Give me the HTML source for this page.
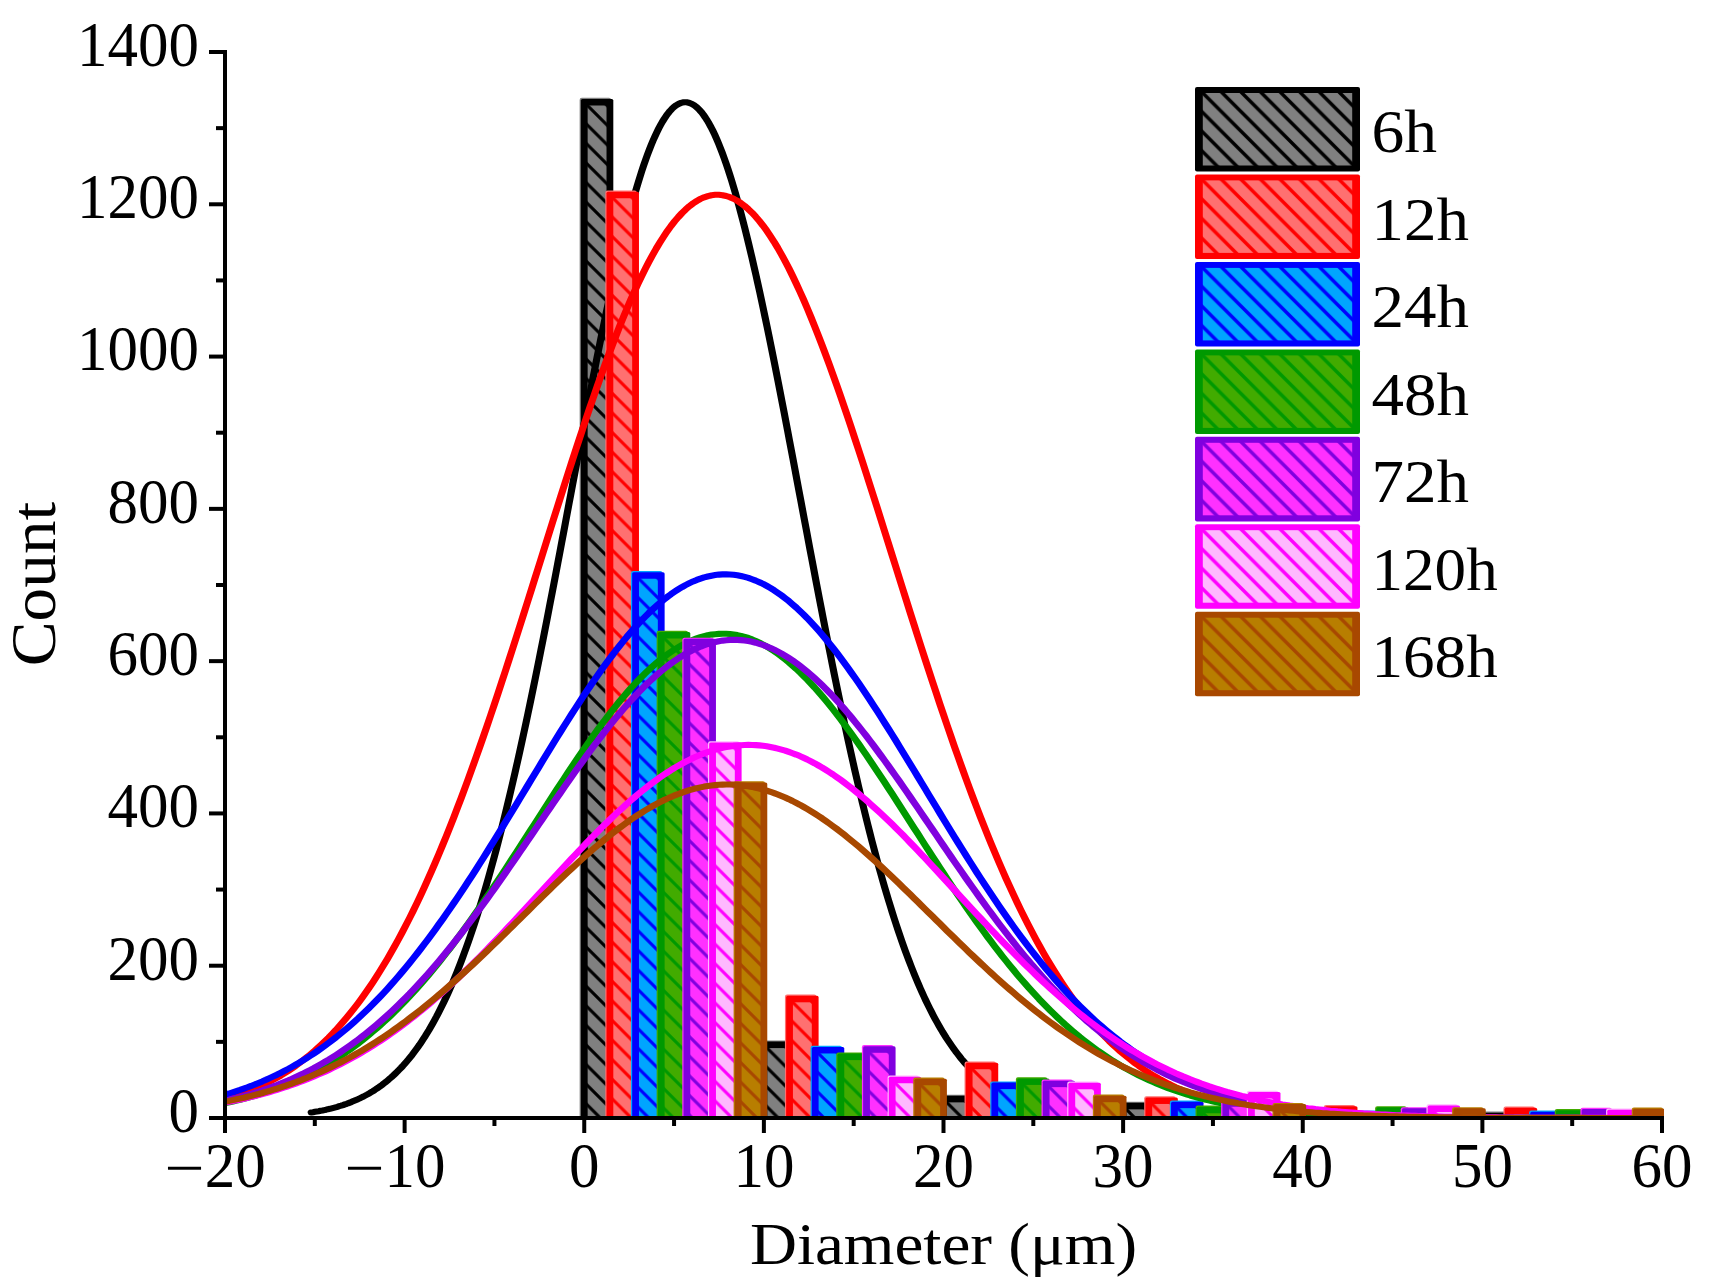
<!DOCTYPE html><html><head><meta charset="utf-8"><title>Diameter histogram</title>
<style>html,body{margin:0;padding:0;background:#fff}svg{display:block}text{font-family:"Liberation Serif", serif;fill:#000}</style></head><body>
<svg width="1713" height="1284" viewBox="0 0 1713 1284">
<rect width="1713" height="1284" fill="#fff"/>
<defs>
<pattern id="h0" patternUnits="userSpaceOnUse" width="19.6" height="19.6"><rect width="19.6" height="19.6" fill="#808080"/><path d="M-5,-5 L24.6,24.6 M-5,14.600000000000001 L5,24.6 M14.600000000000001,-5 L24.6,5" stroke="#000000" stroke-width="3.1" fill="none"/></pattern>
<pattern id="h1" patternUnits="userSpaceOnUse" width="19.6" height="19.6"><rect width="19.6" height="19.6" fill="#ff7070"/><path d="M-5,-5 L24.6,24.6 M-5,14.600000000000001 L5,24.6 M14.600000000000001,-5 L24.6,5" stroke="#ff0000" stroke-width="3.1" fill="none"/></pattern>
<pattern id="h2" patternUnits="userSpaceOnUse" width="19.6" height="19.6"><rect width="19.6" height="19.6" fill="#00a5ff"/><path d="M-5,-5 L24.6,24.6 M-5,14.600000000000001 L5,24.6 M14.600000000000001,-5 L24.6,5" stroke="#0000ff" stroke-width="3.1" fill="none"/></pattern>
<pattern id="h3" patternUnits="userSpaceOnUse" width="19.6" height="19.6"><rect width="19.6" height="19.6" fill="#42ab00"/><path d="M-5,-5 L24.6,24.6 M-5,14.600000000000001 L5,24.6 M14.600000000000001,-5 L24.6,5" stroke="#009900" stroke-width="3.1" fill="none"/></pattern>
<pattern id="h4" patternUnits="userSpaceOnUse" width="19.6" height="19.6"><rect width="19.6" height="19.6" fill="#ff30ff"/><path d="M-5,-5 L24.6,24.6 M-5,14.600000000000001 L5,24.6 M14.600000000000001,-5 L24.6,5" stroke="#8000df" stroke-width="3.1" fill="none"/></pattern>
<pattern id="h5" patternUnits="userSpaceOnUse" width="19.6" height="19.6"><rect width="19.6" height="19.6" fill="#ffb8ff"/><path d="M-5,-5 L24.6,24.6 M-5,14.600000000000001 L5,24.6 M14.600000000000001,-5 L24.6,5" stroke="#ff00ff" stroke-width="3.1" fill="none"/></pattern>
<pattern id="h6" patternUnits="userSpaceOnUse" width="19.6" height="19.6"><rect width="19.6" height="19.6" fill="#b87e00"/><path d="M-5,-5 L24.6,24.6 M-5,14.600000000000001 L5,24.6 M14.600000000000001,-5 L24.6,5" stroke="#a84800" stroke-width="3.1" fill="none"/></pattern>
<pattern id="g0" patternUnits="userSpaceOnUse" width="19.6" height="19.6"><rect width="19.6" height="19.6" fill="#808080"/><path d="M-5,-5 L24.6,24.6 M-5,14.600000000000001 L5,24.6 M14.600000000000001,-5 L24.6,5" stroke="#000000" stroke-width="3.5" fill="none"/></pattern>
<pattern id="g1" patternUnits="userSpaceOnUse" width="19.6" height="19.6"><rect width="19.6" height="19.6" fill="#ff7070"/><path d="M-5,-5 L24.6,24.6 M-5,14.600000000000001 L5,24.6 M14.600000000000001,-5 L24.6,5" stroke="#ff0000" stroke-width="3.5" fill="none"/></pattern>
<pattern id="g2" patternUnits="userSpaceOnUse" width="19.6" height="19.6"><rect width="19.6" height="19.6" fill="#00a5ff"/><path d="M-5,-5 L24.6,24.6 M-5,14.600000000000001 L5,24.6 M14.600000000000001,-5 L24.6,5" stroke="#0000ff" stroke-width="3.5" fill="none"/></pattern>
<pattern id="g3" patternUnits="userSpaceOnUse" width="19.6" height="19.6"><rect width="19.6" height="19.6" fill="#42ab00"/><path d="M-5,-5 L24.6,24.6 M-5,14.600000000000001 L5,24.6 M14.600000000000001,-5 L24.6,5" stroke="#009900" stroke-width="3.5" fill="none"/></pattern>
<pattern id="g4" patternUnits="userSpaceOnUse" width="19.6" height="19.6"><rect width="19.6" height="19.6" fill="#ff30ff"/><path d="M-5,-5 L24.6,24.6 M-5,14.600000000000001 L5,24.6 M14.600000000000001,-5 L24.6,5" stroke="#8000df" stroke-width="3.5" fill="none"/></pattern>
<pattern id="g5" patternUnits="userSpaceOnUse" width="19.6" height="19.6"><rect width="19.6" height="19.6" fill="#ffb8ff"/><path d="M-5,-5 L24.6,24.6 M-5,14.600000000000001 L5,24.6 M14.600000000000001,-5 L24.6,5" stroke="#ff00ff" stroke-width="3.5" fill="none"/></pattern>
<pattern id="g6" patternUnits="userSpaceOnUse" width="19.6" height="19.6"><rect width="19.6" height="19.6" fill="#b87e00"/><path d="M-5,-5 L24.6,24.6 M-5,14.600000000000001 L5,24.6 M14.600000000000001,-5 L24.6,5" stroke="#a84800" stroke-width="3.5" fill="none"/></pattern>
<clipPath id="clip"><rect x="225.0" y="0" width="1439.0" height="1118.0"/></clipPath>
</defs>
<g clip-path="url(#clip)">
<rect x="579.65" y="97.80" width="31.46" height="1023.00" rx="2.2" fill="#808080"/>
<rect x="580.85" y="99.00" width="32.46" height="1023.00" rx="1.6" fill="#000000"/>
<g transform="translate(584.25,102.25)"><rect x="3.40" y="3.25" width="18.86" height="1012.50" fill="url(#h0)"/></g>
<rect x="759.27" y="1040.38" width="31.46" height="80.42" rx="2.2" fill="#808080"/>
<rect x="760.48" y="1041.58" width="32.46" height="80.42" rx="1.6" fill="#000000"/>
<g transform="translate(763.88,1044.83)"><rect x="3.40" y="3.25" width="18.86" height="69.92" fill="url(#h0)"/></g>
<rect x="938.90" y="1094.67" width="31.46" height="26.13" rx="2.2" fill="#808080"/>
<rect x="940.10" y="1095.87" width="32.46" height="26.13" rx="1.6" fill="#000000"/>
<g transform="translate(943.50,1099.12)"><rect x="3.40" y="3.25" width="18.86" height="15.63" fill="url(#h0)"/></g>
<rect x="1118.52" y="1101.67" width="31.46" height="19.13" rx="2.2" fill="#808080"/>
<rect x="1119.72" y="1102.87" width="32.46" height="19.13" rx="1.6" fill="#000000"/>
<g transform="translate(1123.12,1106.12)"><rect x="3.40" y="3.25" width="18.86" height="8.63" fill="url(#h0)"/></g>
<rect x="1298.15" y="1111.27" width="31.46" height="9.53" rx="2.2" fill="#808080"/>
<rect x="1299.35" y="1112.47" width="32.46" height="9.53" rx="1.6" fill="#000000"/>
<rect x="1477.77" y="1111.57" width="31.46" height="9.23" rx="2.2" fill="#808080"/>
<rect x="1478.97" y="1112.77" width="32.46" height="9.23" rx="1.6" fill="#000000"/>
<polyline transform="scale(1.17,1)" points="266.00,1112.5 267.60,1112.2 269.19,1111.8 270.79,1111.5 272.39,1111.2 273.98,1110.8 275.58,1110.5 277.18,1110.1 278.77,1109.7 280.37,1109.2 281.97,1108.8 283.56,1108.3 285.16,1107.8 286.76,1107.3 288.35,1106.8 289.95,1106.2 291.55,1105.7 293.14,1105.1 294.74,1104.4 296.34,1103.8 297.93,1103.1 299.53,1102.4 301.13,1101.6 302.72,1100.8 304.32,1100.0 305.92,1099.2 307.51,1098.3 309.11,1097.4 310.71,1096.5 312.30,1095.5 313.90,1094.5 315.50,1093.4 317.09,1092.3 318.69,1091.2 320.29,1090.0 321.88,1088.7 323.48,1087.5 325.08,1086.1 326.67,1084.8 328.27,1083.3 329.87,1081.9 331.46,1080.3 333.06,1078.7 334.66,1077.1 336.25,1075.4 337.85,1073.6 339.45,1071.8 341.04,1069.9 342.64,1068.0 344.24,1066.0 345.83,1063.9 347.43,1061.7 349.03,1059.5 350.62,1057.2 352.22,1054.9 353.82,1052.4 355.41,1049.9 357.01,1047.3 358.61,1044.7 360.20,1041.9 361.80,1039.1 363.40,1036.2 364.99,1033.1 366.59,1030.1 368.19,1026.9 369.78,1023.6 371.38,1020.2 372.98,1016.8 374.57,1013.2 376.17,1009.6 377.77,1005.8 379.36,1002.0 380.96,998.0 382.56,994.0 384.15,989.8 385.75,985.6 387.35,981.2 388.94,976.7 390.54,972.2 392.14,967.5 393.73,962.7 395.33,957.8 396.93,952.7 398.52,947.6 400.12,942.4 401.72,937.0 403.31,931.5 404.91,925.9 406.51,920.2 408.10,914.4 409.70,908.4 411.30,902.4 412.89,896.2 414.49,889.9 416.09,883.5 417.68,877.0 419.28,870.3 420.88,863.5 422.47,856.7 424.07,849.7 425.67,842.5 427.26,835.3 428.86,828.0 430.46,820.5 432.05,812.9 433.65,805.2 435.25,797.4 436.84,789.5 438.44,781.5 440.04,773.4 441.63,765.2 443.23,756.9 444.83,748.4 446.42,739.9 448.02,731.3 449.62,722.6 451.21,713.8 452.81,704.9 454.41,695.9 456.00,686.9 457.60,677.7 459.20,668.5 460.79,659.2 462.39,649.8 463.99,640.4 465.58,630.9 467.18,621.4 468.78,611.8 470.37,602.1 471.97,592.4 473.57,582.7 475.16,572.9 476.76,563.0 478.36,553.2 479.95,543.3 481.55,533.4 483.15,523.5 484.74,513.6 486.34,503.6 487.94,493.7 489.53,483.8 491.13,473.9 492.73,464.0 494.32,454.1 495.92,444.2 497.52,434.4 499.11,424.6 500.71,414.8 502.31,405.1 503.90,395.5 505.50,385.9 507.10,376.4 508.69,367.0 510.29,357.6 511.89,348.3 513.48,339.1 515.08,330.0 516.68,321.0 518.27,312.1 519.87,303.3 521.47,294.6 523.06,286.1 524.66,277.7 526.26,269.4 527.85,261.3 529.45,253.3 531.05,245.5 532.64,237.8 534.24,230.3 535.84,222.9 537.43,215.8 539.03,208.8 540.63,202.0 542.22,195.3 543.82,188.9 545.42,182.7 547.01,176.7 548.61,170.8 550.21,165.2 551.80,159.9 553.40,154.7 555.00,149.7 556.59,145.0 558.19,140.5 559.79,136.3 561.38,132.3 562.98,128.5 564.58,125.0 566.17,121.7 567.77,118.7 569.37,115.9 570.96,113.4 572.56,111.1 574.16,109.1 575.75,107.3 577.35,105.8 578.95,104.6 580.54,103.6 582.14,102.9 583.74,102.4 585.33,102.3 586.93,102.3 588.53,102.7 590.12,103.3 591.72,104.2 593.32,105.3 594.91,106.7 596.51,108.4 598.11,110.3 599.70,112.4 601.30,114.9 602.90,117.6 604.49,120.5 606.09,123.7 607.69,127.1 609.28,130.8 610.88,134.7 612.48,138.9 614.07,143.3 615.67,147.9 617.27,152.8 618.86,157.8 620.46,163.1 622.06,168.7 623.65,174.4 625.25,180.3 626.85,186.5 628.44,192.8 630.04,199.4 631.64,206.1 633.23,213.0 634.83,220.2 636.43,227.4 638.02,234.9 639.62,242.5 641.22,250.3 642.81,258.2 644.41,266.3 646.01,274.5 647.60,282.9 649.20,291.3 650.80,300.0 652.39,308.7 653.99,317.6 655.59,326.5 657.18,335.6 658.78,344.7 660.38,354.0 661.97,363.3 663.57,372.8 665.17,382.2 666.76,391.8 668.36,401.4 669.96,411.1 671.55,420.8 673.15,430.6 674.75,440.4 676.34,450.3 677.94,460.1 679.54,470.0 681.13,480.0 682.73,489.9 684.33,499.8 685.92,509.8 687.52,519.7 689.12,529.6 690.71,539.5 692.31,549.4 693.91,559.3 695.50,569.1 697.10,578.9 698.70,588.7 700.29,598.4 701.89,608.1 703.49,617.7 705.08,627.3 706.68,636.8 708.28,646.2 709.87,655.6 711.47,664.9 713.07,674.2 714.66,683.3 716.26,692.4 717.86,701.4 719.45,710.4 721.05,719.2 722.65,728.0 724.24,736.6 725.84,745.2 727.44,753.6 729.03,762.0 730.63,770.3 732.23,778.4 733.82,786.5 735.42,794.4 737.02,802.3 738.61,810.0 740.21,817.6 741.81,825.1 743.40,832.5 745.00,839.8 746.60,846.9 748.19,854.0 749.79,860.9 751.39,867.7 752.98,874.4 754.58,881.0 756.18,887.5 757.77,893.8 759.37,900.0 760.97,906.1 762.56,912.1 764.16,918.0 765.76,923.7 767.35,929.4 768.95,934.9 770.55,940.3 772.14,945.6 773.74,950.8 775.34,955.9 776.93,960.8 778.53,965.6 780.13,970.4 781.72,975.0 783.32,979.5 784.92,983.9 786.51,988.2 788.11,992.4 789.71,996.5 791.30,1000.5 792.90,1004.4 794.50,1008.1 796.09,1011.8 797.69,1015.4 799.29,1018.9 800.88,1022.3 802.48,1025.6 804.08,1028.8 805.67,1032.0 807.27,1035.0 808.87,1038.0 810.46,1040.8 812.06,1043.6 813.66,1046.3 815.25,1048.9 816.85,1051.5 818.45,1053.9 820.04,1056.3 821.64,1058.7 823.24,1060.9 824.83,1063.1 826.43,1065.2 828.03,1067.2 829.62,1069.2 831.22,1071.1 832.82,1072.9 834.41,1074.7 836.01,1076.4 837.61,1078.1 839.20,1079.7 840.80,1081.3 842.40,1082.8 843.99,1084.2 845.59,1085.6 847.19,1087.0 848.78,1088.3 850.38,1089.5 851.98,1090.7 853.57,1091.9 855.17,1093.0 856.77,1094.1 858.36,1095.1 859.96,1096.1 861.56,1097.1 863.15,1098.0 864.75,1098.9 866.35,1099.7 867.94,1100.5 869.54,1101.3 871.14,1102.1 872.73,1102.8 874.33,1103.5 875.93,1104.2 877.52,1104.8 879.12,1105.4 880.72,1106.0 882.31,1106.6 883.91,1107.1 885.51,1107.6 887.10,1108.1 888.70,1108.6 890.30,1109.1 891.89,1109.5 893.49,1109.9 895.09,1110.3 896.68,1110.7 898.28,1111.0 899.88,1111.4 901.47,1111.7 903.07,1112.0 904.67,1112.3" fill="none" stroke="#000000" stroke-width="6.1" stroke-linecap="round" stroke-linejoin="round"/>
<rect x="605.31" y="190.55" width="31.46" height="930.25" rx="2.2" fill="#ff7070"/>
<rect x="606.51" y="191.75" width="32.46" height="930.25" rx="1.6" fill="#ff0000"/>
<g transform="translate(609.91,195.00)"><rect x="3.40" y="3.25" width="18.86" height="919.75" fill="url(#h1)"/></g>
<rect x="784.94" y="994.61" width="31.46" height="126.19" rx="2.2" fill="#ff7070"/>
<rect x="786.14" y="995.81" width="32.46" height="126.19" rx="1.6" fill="#ff0000"/>
<g transform="translate(789.54,999.06)"><rect x="3.40" y="3.25" width="18.86" height="115.69" fill="url(#h1)"/></g>
<rect x="964.56" y="1061.54" width="31.46" height="59.26" rx="2.2" fill="#ff7070"/>
<rect x="965.76" y="1062.74" width="32.46" height="59.26" rx="1.6" fill="#ff0000"/>
<g transform="translate(969.16,1065.99)"><rect x="3.40" y="3.25" width="18.86" height="48.76" fill="url(#h1)"/></g>
<rect x="1144.19" y="1096.27" width="31.46" height="24.53" rx="2.2" fill="#ff7070"/>
<rect x="1145.39" y="1097.47" width="32.46" height="24.53" rx="1.6" fill="#ff0000"/>
<g transform="translate(1148.79,1100.72)"><rect x="3.40" y="3.25" width="18.86" height="14.03" fill="url(#h1)"/></g>
<rect x="1323.81" y="1105.02" width="31.46" height="15.78" rx="2.2" fill="#ff7070"/>
<rect x="1325.01" y="1106.22" width="32.46" height="15.78" rx="1.6" fill="#ff0000"/>
<g transform="translate(1328.41,1109.47)"><rect x="3.40" y="3.25" width="18.86" height="5.28" fill="url(#h1)"/></g>
<rect x="1503.44" y="1106.54" width="31.46" height="14.26" rx="2.2" fill="#ff7070"/>
<rect x="1504.64" y="1107.74" width="32.46" height="14.26" rx="1.6" fill="#ff0000"/>
<g transform="translate(1508.04,1110.99)"><rect x="3.40" y="3.25" width="18.86" height="3.76" fill="url(#h1)"/></g>
<polyline transform="scale(1.17,1)" points="176.96,1104.3 180.10,1103.4 183.25,1102.5 186.40,1101.5 189.54,1100.5 192.69,1099.5 195.84,1098.4 198.99,1097.2 202.13,1096.0 205.28,1094.7 208.43,1093.3 211.58,1091.9 214.72,1090.4 217.87,1088.8 221.02,1087.2 224.16,1085.5 227.31,1083.7 230.46,1081.8 233.61,1079.8 236.75,1077.7 239.90,1075.6 243.05,1073.3 246.20,1071.0 249.34,1068.5 252.49,1066.0 255.64,1063.3 258.78,1060.5 261.93,1057.6 265.08,1054.6 268.23,1051.5 271.37,1048.2 274.52,1044.8 277.67,1041.3 280.82,1037.7 283.96,1033.9 287.11,1030.0 290.26,1025.9 293.40,1021.7 296.55,1017.3 299.70,1012.8 302.85,1008.1 305.99,1003.3 309.14,998.3 312.29,993.2 315.44,987.9 318.58,982.4 321.73,976.7 324.88,970.9 328.02,964.9 331.17,958.8 334.32,952.4 337.47,945.9 340.61,939.2 343.76,932.4 346.91,925.3 350.06,918.1 353.20,910.7 356.35,903.1 359.50,895.3 362.64,887.3 365.79,879.2 368.94,870.9 372.09,862.4 375.23,853.7 378.38,844.9 381.53,835.9 384.68,826.7 387.82,817.4 390.97,807.8 394.12,798.2 397.26,788.3 400.41,778.4 403.56,768.2 406.71,757.9 409.85,747.5 413.00,737.0 416.15,726.3 419.30,715.5 422.44,704.6 425.59,693.6 428.74,682.4 431.88,671.2 435.03,659.9 438.18,648.5 441.33,637.0 444.47,625.5 447.62,613.9 450.77,602.3 453.92,590.6 457.06,578.9 460.21,567.2 463.36,555.5 466.50,543.7 469.65,532.0 472.80,520.3 475.95,508.7 479.09,497.1 482.24,485.5 485.39,474.0 488.54,462.6 491.68,451.3 494.83,440.1 497.98,429.0 501.12,418.0 504.27,407.2 507.42,396.5 510.57,386.0 513.71,375.6 516.86,365.5 520.01,355.5 523.16,345.7 526.30,336.2 529.45,326.8 532.60,317.8 535.74,308.9 538.89,300.4 542.04,292.1 545.19,284.0 548.33,276.3 551.48,268.9 554.63,261.8 557.78,255.0 560.92,248.5 564.07,242.4 567.22,236.6 570.36,231.1 573.51,226.0 576.66,221.3 579.81,217.0 582.95,213.0 586.10,209.4 589.25,206.2 592.40,203.4 595.54,201.0 598.69,198.9 601.84,197.3 604.98,196.1 608.13,195.2 611.28,194.8 614.43,194.8 617.57,195.2 620.72,196.0 623.87,197.2 627.02,198.8 630.16,200.8 633.31,203.2 636.46,206.0 639.60,209.2 642.75,212.7 645.90,216.7 649.05,221.0 652.19,225.7 655.34,230.7 658.49,236.2 661.64,241.9 664.78,248.0 667.93,254.5 671.08,261.3 674.22,268.3 677.37,275.8 680.52,283.5 683.67,291.5 686.81,299.7 689.96,308.3 693.11,317.1 696.26,326.2 699.40,335.5 702.55,345.0 705.70,354.8 708.84,364.7 711.99,374.9 715.14,385.2 718.29,395.7 721.43,406.4 724.58,417.2 727.73,428.2 730.88,439.3 734.02,450.5 737.17,461.8 740.32,473.2 743.46,484.7 746.61,496.2 749.76,507.8 752.91,519.5 756.05,531.2 759.20,542.9 762.35,554.6 765.50,566.3 768.64,578.0 771.79,589.7 774.94,601.4 778.08,613.1 781.23,624.6 784.38,636.2 787.53,647.7 790.67,659.1 793.82,670.4 796.97,681.6 800.12,692.7 803.26,703.8 806.41,714.7 809.56,725.5 812.70,736.2 815.85,746.8 819.00,757.2 822.15,767.5 825.29,777.6 828.44,787.6 831.59,797.5 834.74,807.1 837.88,816.7 841.03,826.0 844.18,835.2 847.32,844.2 850.47,853.1 853.62,861.8 856.77,870.3 859.91,878.6 863.06,886.7 866.21,894.7 869.36,902.5 872.50,910.1 875.65,917.5 878.80,924.8 881.94,931.8 885.09,938.7 888.24,945.4 891.39,952.0 894.53,958.3 897.68,964.5 900.83,970.5 903.98,976.3 907.12,982.0 910.27,987.5 913.42,992.8 916.56,998.0 919.71,1003.0 922.86,1007.8 926.01,1012.5 929.15,1017.0 932.30,1021.4 935.45,1025.6 938.60,1029.7 941.74,1033.6 944.89,1037.4 948.04,1041.1 951.18,1044.6 954.33,1048.0 957.48,1051.3 960.63,1054.4 963.77,1057.4 966.92,1060.3 970.07,1063.1 973.22,1065.8 976.36,1068.3 979.51,1070.8 982.66,1073.2 985.80,1075.4 988.95,1077.6 992.10,1079.7 995.25,1081.6 998.39,1083.5 1001.54,1085.3 1004.69,1087.1 1007.84,1088.7 1010.98,1090.3 1014.13,1091.8 1017.28,1093.2 1020.43,1094.6 1023.57,1095.9 1026.72,1097.1 1029.87,1098.3 1033.01,1099.4 1036.16,1100.5 1039.31,1101.5 1042.46,1102.4 1045.60,1103.3 1048.75,1104.2 1051.90,1105.0 1055.05,1105.8 1058.19,1106.5 1061.34,1107.2 1064.49,1107.9 1067.63,1108.5 1070.78,1109.1 1073.93,1109.6 1077.08,1110.2 1080.22,1110.6 1083.37,1111.1 1086.52,1111.5 1089.67,1112.0 1092.81,1112.3 1095.96,1112.7 1099.11,1113.1 1102.25,1113.4 1105.40,1113.7 1108.55,1114.0 1111.70,1114.2 1114.84,1114.5 1117.99,1114.7 1121.14,1115.0 1124.29,1115.2 1127.43,1115.4 1130.58,1115.5 1133.73,1115.7 1136.87,1115.9 1140.02,1116.0 1143.17,1116.2 1146.32,1116.3 1149.46,1116.4 1152.61,1116.5 1155.76,1116.6 1158.91,1116.7 1162.05,1116.8 1165.20,1116.9 1168.35,1117.0 1171.49,1117.1 1174.64,1117.1 1177.79,1117.2 1180.94,1117.3 1184.08,1117.3 1187.23,1117.4 1190.38,1117.4 1193.53,1117.5 1196.67,1117.5 1199.82,1117.5 1202.97,1117.6 1206.11,1117.6 1209.26,1117.6 1212.41,1117.7 1215.56,1117.7 1218.70,1117.7 1221.85,1117.7 1225.00,1117.8 1228.15,1117.8 1231.29,1117.8 1234.44,1117.8 1237.59,1117.8 1240.73,1117.8 1243.88,1117.9 1247.03,1117.9 1250.18,1117.9 1253.32,1117.9 1256.47,1117.9 1259.62,1117.9 1262.77,1117.9 1265.91,1117.9 1269.06,1117.9 1272.21,1117.9 1275.35,1117.9 1278.50,1117.9 1281.65,1118.0 1284.80,1118.0 1287.94,1118.0 1291.09,1118.0 1294.24,1118.0 1297.39,1118.0 1300.53,1118.0 1303.68,1118.0 1306.83,1118.0 1309.97,1118.0 1313.12,1118.0 1316.27,1118.0 1319.42,1118.0 1322.56,1118.0 1325.71,1118.0 1328.86,1118.0 1332.01,1118.0 1335.15,1118.0 1338.30,1118.0 1341.45,1118.0 1344.59,1118.0 1347.74,1118.0 1350.89,1118.0 1354.04,1118.0 1357.18,1118.0 1360.33,1118.0 1363.48,1118.0 1366.63,1118.0 1369.77,1118.0 1372.92,1118.0 1376.07,1118.0 1379.21,1118.0 1382.36,1118.0 1385.51,1118.0 1388.66,1118.0 1391.80,1118.0 1394.95,1118.0 1398.10,1118.0 1401.25,1118.0 1404.39,1118.0 1407.54,1118.0 1410.69,1118.0 1413.83,1118.0 1416.98,1118.0 1420.13,1118.0 1423.28,1118.0 1426.42,1118.0 1429.57,1118.0 1432.72,1118.0 1435.87,1118.0" fill="none" stroke="#ff0000" stroke-width="6.1" stroke-linecap="round" stroke-linejoin="round"/>
<rect x="630.97" y="571.03" width="31.46" height="549.77" rx="2.2" fill="#00a5ff"/>
<rect x="632.17" y="572.23" width="32.46" height="549.77" rx="1.6" fill="#0000ff"/>
<g transform="translate(635.57,575.48)"><rect x="3.40" y="3.25" width="18.86" height="539.27" fill="url(#h2)"/></g>
<rect x="810.60" y="1045.78" width="31.46" height="75.02" rx="2.2" fill="#00a5ff"/>
<rect x="811.80" y="1046.98" width="32.46" height="75.02" rx="1.6" fill="#0000ff"/>
<g transform="translate(815.20,1050.23)"><rect x="3.40" y="3.25" width="18.86" height="64.52" fill="url(#h2)"/></g>
<rect x="990.22" y="1081.42" width="31.46" height="39.38" rx="2.2" fill="#00a5ff"/>
<rect x="991.42" y="1082.62" width="32.46" height="39.38" rx="1.6" fill="#0000ff"/>
<g transform="translate(994.82,1085.87)"><rect x="3.40" y="3.25" width="18.86" height="28.88" fill="url(#h2)"/></g>
<rect x="1169.85" y="1100.45" width="31.46" height="20.35" rx="2.2" fill="#00a5ff"/>
<rect x="1171.05" y="1101.65" width="32.46" height="20.35" rx="1.6" fill="#0000ff"/>
<g transform="translate(1174.45,1104.90)"><rect x="3.40" y="3.25" width="18.86" height="9.85" fill="url(#h2)"/></g>
<rect x="1349.47" y="1110.50" width="31.46" height="10.30" rx="2.2" fill="#00a5ff"/>
<rect x="1350.67" y="1111.70" width="32.46" height="10.30" rx="1.6" fill="#0000ff"/>
<rect x="1529.10" y="1110.58" width="31.46" height="10.22" rx="2.2" fill="#00a5ff"/>
<rect x="1530.30" y="1111.78" width="32.46" height="10.22" rx="1.6" fill="#0000ff"/>
<polyline transform="scale(1.17,1)" points="176.96,1099.5 180.10,1098.6 183.25,1097.6 186.40,1096.7 189.54,1095.6 192.69,1094.6 195.84,1093.5 198.99,1092.3 202.13,1091.1 205.28,1089.9 208.43,1088.6 211.58,1087.3 214.72,1085.9 217.87,1084.4 221.02,1082.9 224.16,1081.4 227.31,1079.8 230.46,1078.1 233.61,1076.4 236.75,1074.7 239.90,1072.8 243.05,1070.9 246.20,1069.0 249.34,1067.0 252.49,1064.9 255.64,1062.7 258.78,1060.5 261.93,1058.2 265.08,1055.9 268.23,1053.5 271.37,1051.0 274.52,1048.4 277.67,1045.7 280.82,1043.0 283.96,1040.2 287.11,1037.4 290.26,1034.4 293.40,1031.4 296.55,1028.3 299.70,1025.1 302.85,1021.8 305.99,1018.5 309.14,1015.0 312.29,1011.5 315.44,1007.9 318.58,1004.3 321.73,1000.5 324.88,996.7 328.02,992.8 331.17,988.8 334.32,984.7 337.47,980.5 340.61,976.2 343.76,971.9 346.91,967.5 350.06,963.0 353.20,958.4 356.35,953.8 359.50,949.0 362.64,944.2 365.79,939.3 368.94,934.4 372.09,929.4 375.23,924.2 378.38,919.1 381.53,913.8 384.68,908.5 387.82,903.1 390.97,897.7 394.12,892.2 397.26,886.7 400.41,881.0 403.56,875.4 406.71,869.7 409.85,863.9 413.00,858.1 416.15,852.2 419.30,846.3 422.44,840.4 425.59,834.4 428.74,828.5 431.88,822.4 435.03,816.4 438.18,810.4 441.33,804.3 444.47,798.2 447.62,792.1 450.77,786.0 453.92,779.9 457.06,773.9 460.21,767.8 463.36,761.7 466.50,755.7 469.65,749.7 472.80,743.7 475.95,737.7 479.09,731.8 482.24,725.9 485.39,720.1 488.54,714.3 491.68,708.6 494.83,702.9 497.98,697.3 501.12,691.8 504.27,686.4 507.42,681.0 510.57,675.7 513.71,670.5 516.86,665.4 520.01,660.4 523.16,655.5 526.30,650.7 529.45,646.0 532.60,641.4 535.74,636.9 538.89,632.6 542.04,628.4 545.19,624.3 548.33,620.4 551.48,616.6 554.63,612.9 557.78,609.4 560.92,606.1 564.07,602.9 567.22,599.8 570.36,596.9 573.51,594.2 576.66,591.7 579.81,589.3 582.95,587.1 586.10,585.0 589.25,583.1 592.40,581.4 595.54,579.9 598.69,578.6 601.84,577.4 604.98,576.5 608.13,575.7 611.28,575.1 614.43,574.6 617.57,574.4 620.72,574.3 623.87,574.5 627.02,574.8 630.16,575.3 633.31,576.0 636.46,576.9 639.60,577.9 642.75,579.2 645.90,580.6 649.05,582.2 652.19,583.9 655.34,585.9 658.49,588.0 661.64,590.3 664.78,592.8 667.93,595.4 671.08,598.2 674.22,601.1 677.37,604.3 680.52,607.5 683.67,611.0 686.81,614.5 689.96,618.2 693.11,622.1 696.26,626.1 699.40,630.2 702.55,634.5 705.70,638.9 708.84,643.4 711.99,648.0 715.14,652.7 718.29,657.6 721.43,662.6 724.58,667.6 727.73,672.8 730.88,678.0 734.02,683.3 737.17,688.7 740.32,694.2 743.46,699.8 746.61,705.4 749.76,711.1 752.91,716.9 756.05,722.7 759.20,728.5 762.35,734.4 765.50,740.3 768.64,746.3 771.79,752.3 774.94,758.3 778.08,764.4 781.23,770.4 784.38,776.5 787.53,782.6 790.67,788.7 793.82,794.8 796.97,800.9 800.12,806.9 803.26,813.0 806.41,819.1 809.56,825.1 812.70,831.1 815.85,837.1 819.00,843.0 822.15,848.9 825.29,854.8 828.44,860.6 831.59,866.4 834.74,872.2 837.88,877.9 841.03,883.5 844.18,889.1 847.32,894.6 850.47,900.1 853.62,905.5 856.77,910.9 859.91,916.1 863.06,921.4 866.21,926.5 869.36,931.6 872.50,936.6 875.65,941.5 878.80,946.4 881.94,951.1 885.09,955.8 888.24,960.4 891.39,965.0 894.53,969.4 897.68,973.8 900.83,978.1 903.98,982.3 907.12,986.5 910.27,990.5 913.42,994.5 916.56,998.4 919.71,1002.2 922.86,1005.9 926.01,1009.5 929.15,1013.1 932.30,1016.6 935.45,1020.0 938.60,1023.3 941.74,1026.5 944.89,1029.6 948.04,1032.7 951.18,1035.7 954.33,1038.6 957.48,1041.5 960.63,1044.2 963.77,1046.9 966.92,1049.5 970.07,1052.1 973.22,1054.5 976.36,1056.9 979.51,1059.2 982.66,1061.5 985.80,1063.7 988.95,1065.8 992.10,1067.9 995.25,1069.8 998.39,1071.8 1001.54,1073.6 1004.69,1075.4 1007.84,1077.2 1010.98,1078.9 1014.13,1080.5 1017.28,1082.1 1020.43,1083.6 1023.57,1085.1 1026.72,1086.5 1029.87,1087.8 1033.01,1089.2 1036.16,1090.4 1039.31,1091.6 1042.46,1092.8 1045.60,1094.0 1048.75,1095.0 1051.90,1096.1 1055.05,1097.1 1058.19,1098.1 1061.34,1099.0 1064.49,1099.9 1067.63,1100.7 1070.78,1101.6 1073.93,1102.3 1077.08,1103.1 1080.22,1103.8 1083.37,1104.5 1086.52,1105.2 1089.67,1105.8 1092.81,1106.4 1095.96,1107.0 1099.11,1107.5 1102.25,1108.1 1105.40,1108.6 1108.55,1109.1 1111.70,1109.5 1114.84,1110.0 1117.99,1110.4 1121.14,1110.8 1124.29,1111.2 1127.43,1111.5 1130.58,1111.9 1133.73,1112.2 1136.87,1112.5 1140.02,1112.8 1143.17,1113.1 1146.32,1113.4 1149.46,1113.6 1152.61,1113.9 1155.76,1114.1 1158.91,1114.3 1162.05,1114.5 1165.20,1114.7 1168.35,1114.9 1171.49,1115.1 1174.64,1115.3 1177.79,1115.4 1180.94,1115.6 1184.08,1115.7 1187.23,1115.9 1190.38,1116.0 1193.53,1116.1 1196.67,1116.2 1199.82,1116.3 1202.97,1116.4 1206.11,1116.5 1209.26,1116.6 1212.41,1116.7 1215.56,1116.8 1218.70,1116.9 1221.85,1116.9 1225.00,1117.0 1228.15,1117.1 1231.29,1117.1 1234.44,1117.2 1237.59,1117.2 1240.73,1117.3 1243.88,1117.3 1247.03,1117.4 1250.18,1117.4 1253.32,1117.5 1256.47,1117.5 1259.62,1117.5 1262.77,1117.6 1265.91,1117.6 1269.06,1117.6 1272.21,1117.6 1275.35,1117.7 1278.50,1117.7 1281.65,1117.7 1284.80,1117.7 1287.94,1117.7 1291.09,1117.8 1294.24,1117.8 1297.39,1117.8 1300.53,1117.8 1303.68,1117.8 1306.83,1117.8 1309.97,1117.9 1313.12,1117.9 1316.27,1117.9 1319.42,1117.9 1322.56,1117.9 1325.71,1117.9 1328.86,1117.9 1332.01,1117.9 1335.15,1117.9 1338.30,1117.9 1341.45,1117.9 1344.59,1117.9 1347.74,1117.9 1350.89,1117.9 1354.04,1117.9 1357.18,1118.0 1360.33,1118.0 1363.48,1118.0 1366.63,1118.0 1369.77,1118.0 1372.92,1118.0 1376.07,1118.0 1379.21,1118.0 1382.36,1118.0 1385.51,1118.0 1388.66,1118.0 1391.80,1118.0 1394.95,1118.0 1398.10,1118.0 1401.25,1118.0 1404.39,1118.0 1407.54,1118.0 1410.69,1118.0 1413.83,1118.0 1416.98,1118.0 1420.13,1118.0 1423.28,1118.0 1426.42,1118.0 1429.57,1118.0 1432.72,1118.0 1435.87,1118.0" fill="none" stroke="#0000ff" stroke-width="6.1" stroke-linecap="round" stroke-linejoin="round"/>
<rect x="656.63" y="630.80" width="31.46" height="490.00" rx="2.2" fill="#42ab00"/>
<rect x="657.83" y="632.00" width="32.46" height="490.00" rx="1.6" fill="#009900"/>
<g transform="translate(661.23,635.25)"><rect x="3.40" y="3.25" width="18.86" height="479.50" fill="url(#h3)"/></g>
<rect x="836.26" y="1052.41" width="31.46" height="68.39" rx="2.2" fill="#42ab00"/>
<rect x="837.46" y="1053.61" width="32.46" height="68.39" rx="1.6" fill="#009900"/>
<g transform="translate(840.86,1056.86)"><rect x="3.40" y="3.25" width="18.86" height="57.89" fill="url(#h3)"/></g>
<rect x="1015.88" y="1077.23" width="31.46" height="43.57" rx="2.2" fill="#42ab00"/>
<rect x="1017.08" y="1078.43" width="32.46" height="43.57" rx="1.6" fill="#009900"/>
<g transform="translate(1020.48,1081.68)"><rect x="3.40" y="3.25" width="18.86" height="33.07" fill="url(#h3)"/></g>
<rect x="1195.51" y="1105.56" width="31.46" height="15.24" rx="2.2" fill="#42ab00"/>
<rect x="1196.71" y="1106.76" width="32.46" height="15.24" rx="1.6" fill="#009900"/>
<g transform="translate(1200.11,1110.01)"><rect x="3.40" y="3.25" width="18.86" height="4.74" fill="url(#h3)"/></g>
<rect x="1375.13" y="1106.16" width="31.46" height="14.64" rx="2.2" fill="#42ab00"/>
<rect x="1376.33" y="1107.36" width="32.46" height="14.64" rx="1.6" fill="#009900"/>
<g transform="translate(1379.73,1110.61)"><rect x="3.40" y="3.25" width="18.86" height="4.14" fill="url(#h3)"/></g>
<rect x="1554.76" y="1108.98" width="31.46" height="11.82" rx="2.2" fill="#42ab00"/>
<rect x="1555.96" y="1110.18" width="32.46" height="11.82" rx="1.6" fill="#009900"/>
<g transform="translate(1559.36,1113.43)"><rect x="3.40" y="3.25" width="18.86" height="1.32" fill="url(#h3)"/></g>
<polyline transform="scale(1.17,1)" points="176.96,1106.5 180.10,1105.9 183.25,1105.3 186.40,1104.6 189.54,1103.8 192.69,1103.1 195.84,1102.3 198.99,1101.5 202.13,1100.6 205.28,1099.7 208.43,1098.8 211.58,1097.8 214.72,1096.8 217.87,1095.8 221.02,1094.7 224.16,1093.5 227.31,1092.3 230.46,1091.1 233.61,1089.8 236.75,1088.5 239.90,1087.1 243.05,1085.6 246.20,1084.1 249.34,1082.6 252.49,1081.0 255.64,1079.3 258.78,1077.6 261.93,1075.8 265.08,1073.9 268.23,1072.0 271.37,1070.0 274.52,1068.0 277.67,1065.9 280.82,1063.7 283.96,1061.4 287.11,1059.1 290.26,1056.7 293.40,1054.3 296.55,1051.7 299.70,1049.1 302.85,1046.4 305.99,1043.6 309.14,1040.8 312.29,1037.8 315.44,1034.8 318.58,1031.7 321.73,1028.6 324.88,1025.3 328.02,1022.0 331.17,1018.6 334.32,1015.1 337.47,1011.5 340.61,1007.9 343.76,1004.1 346.91,1000.3 350.06,996.4 353.20,992.4 356.35,988.3 359.50,984.2 362.64,979.9 365.79,975.6 368.94,971.2 372.09,966.8 375.23,962.2 378.38,957.6 381.53,952.9 384.68,948.2 387.82,943.3 390.97,938.4 394.12,933.5 397.26,928.4 400.41,923.3 403.56,918.2 406.71,912.9 409.85,907.7 413.00,902.3 416.15,896.9 419.30,891.5 422.44,886.0 425.59,880.5 428.74,875.0 431.88,869.4 435.03,863.8 438.18,858.1 441.33,852.4 444.47,846.8 447.62,841.0 450.77,835.3 453.92,829.6 457.06,823.9 460.21,818.1 463.36,812.4 466.50,806.7 469.65,801.0 472.80,795.3 475.95,789.6 479.09,784.0 482.24,778.4 485.39,772.8 488.54,767.3 491.68,761.8 494.83,756.4 497.98,751.0 501.12,745.7 504.27,740.5 507.42,735.3 510.57,730.2 513.71,725.2 516.86,720.3 520.01,715.5 523.16,710.7 526.30,706.1 529.45,701.6 532.60,697.2 535.74,692.9 538.89,688.7 542.04,684.7 545.19,680.7 548.33,676.9 551.48,673.3 554.63,669.8 557.78,666.4 560.92,663.2 564.07,660.1 567.22,657.2 570.36,654.4 573.51,651.9 576.66,649.4 579.81,647.2 582.95,645.1 586.10,643.1 589.25,641.4 592.40,639.8 595.54,638.4 598.69,637.2 601.84,636.2 604.98,635.3 608.13,634.6 611.28,634.2 614.43,633.9 617.57,633.7 620.72,633.8 623.87,634.0 627.02,634.5 630.16,635.1 633.31,635.9 636.46,636.9 639.60,638.0 642.75,639.4 645.90,640.9 649.05,642.6 652.19,644.5 655.34,646.5 658.49,648.7 661.64,651.1 664.78,653.7 667.93,656.4 671.08,659.3 674.22,662.3 677.37,665.5 680.52,668.8 683.67,672.3 686.81,675.9 689.96,679.6 693.11,683.5 696.26,687.5 699.40,691.7 702.55,695.9 705.70,700.3 708.84,704.8 711.99,709.4 715.14,714.1 718.29,718.9 721.43,723.8 724.58,728.8 727.73,733.8 730.88,739.0 734.02,744.2 737.17,749.5 740.32,754.8 743.46,760.2 746.61,765.7 749.76,771.2 752.91,776.7 756.05,782.3 759.20,788.0 762.35,793.6 765.50,799.3 768.64,805.0 771.79,810.7 774.94,816.4 778.08,822.2 781.23,827.9 784.38,833.6 787.53,839.4 790.67,845.1 793.82,850.8 796.97,856.5 800.12,862.1 803.26,867.7 806.41,873.3 809.56,878.9 812.70,884.4 815.85,889.9 819.00,895.4 822.15,900.8 825.29,906.1 828.44,911.4 831.59,916.6 834.74,921.8 837.88,926.9 841.03,932.0 844.18,937.0 847.32,941.9 850.47,946.8 853.62,951.5 856.77,956.3 859.91,960.9 863.06,965.5 866.21,969.9 869.36,974.4 872.50,978.7 875.65,982.9 878.80,987.1 881.94,991.2 885.09,995.2 888.24,999.2 891.39,1003.0 894.53,1006.8 897.68,1010.5 900.83,1014.1 903.98,1017.6 907.12,1021.0 910.27,1024.4 913.42,1027.6 916.56,1030.8 919.71,1033.9 922.86,1037.0 926.01,1039.9 929.15,1042.8 932.30,1045.6 935.45,1048.3 938.60,1051.0 941.74,1053.5 944.89,1056.0 948.04,1058.4 951.18,1060.8 954.33,1063.0 957.48,1065.2 960.63,1067.4 963.77,1069.4 966.92,1071.4 970.07,1073.4 973.22,1075.3 976.36,1077.1 979.51,1078.8 982.66,1080.5 985.80,1082.1 988.95,1083.7 992.10,1085.2 995.25,1086.7 998.39,1088.1 1001.54,1089.4 1004.69,1090.7 1007.84,1092.0 1010.98,1093.2 1014.13,1094.3 1017.28,1095.5 1020.43,1096.5 1023.57,1097.5 1026.72,1098.5 1029.87,1099.5 1033.01,1100.4 1036.16,1101.2 1039.31,1102.1 1042.46,1102.9 1045.60,1103.6 1048.75,1104.4 1051.90,1105.1 1055.05,1105.7 1058.19,1106.4 1061.34,1107.0 1064.49,1107.5 1067.63,1108.1 1070.78,1108.6 1073.93,1109.1 1077.08,1109.6 1080.22,1110.1 1083.37,1110.5 1086.52,1110.9 1089.67,1111.3 1092.81,1111.7 1095.96,1112.0 1099.11,1112.4 1102.25,1112.7 1105.40,1113.0 1108.55,1113.3 1111.70,1113.5 1114.84,1113.8 1117.99,1114.1 1121.14,1114.3 1124.29,1114.5 1127.43,1114.7 1130.58,1114.9 1133.73,1115.1 1136.87,1115.3 1140.02,1115.4 1143.17,1115.6 1146.32,1115.7 1149.46,1115.9 1152.61,1116.0 1155.76,1116.1 1158.91,1116.3 1162.05,1116.4 1165.20,1116.5 1168.35,1116.6 1171.49,1116.7 1174.64,1116.8 1177.79,1116.8 1180.94,1116.9 1184.08,1117.0 1187.23,1117.0 1190.38,1117.1 1193.53,1117.2 1196.67,1117.2 1199.82,1117.3 1202.97,1117.3 1206.11,1117.4 1209.26,1117.4 1212.41,1117.5 1215.56,1117.5 1218.70,1117.5 1221.85,1117.6 1225.00,1117.6 1228.15,1117.6 1231.29,1117.7 1234.44,1117.7 1237.59,1117.7 1240.73,1117.7 1243.88,1117.7 1247.03,1117.8 1250.18,1117.8 1253.32,1117.8 1256.47,1117.8 1259.62,1117.8 1262.77,1117.8 1265.91,1117.8 1269.06,1117.9 1272.21,1117.9 1275.35,1117.9 1278.50,1117.9 1281.65,1117.9 1284.80,1117.9 1287.94,1117.9 1291.09,1117.9 1294.24,1117.9 1297.39,1117.9 1300.53,1117.9 1303.68,1117.9 1306.83,1117.9 1309.97,1118.0 1313.12,1118.0 1316.27,1118.0 1319.42,1118.0 1322.56,1118.0 1325.71,1118.0 1328.86,1118.0 1332.01,1118.0 1335.15,1118.0 1338.30,1118.0 1341.45,1118.0 1344.59,1118.0 1347.74,1118.0 1350.89,1118.0 1354.04,1118.0 1357.18,1118.0 1360.33,1118.0 1363.48,1118.0 1366.63,1118.0 1369.77,1118.0 1372.92,1118.0 1376.07,1118.0 1379.21,1118.0 1382.36,1118.0 1385.51,1118.0 1388.66,1118.0 1391.80,1118.0 1394.95,1118.0 1398.10,1118.0 1401.25,1118.0 1404.39,1118.0 1407.54,1118.0 1410.69,1118.0 1413.83,1118.0 1416.98,1118.0 1420.13,1118.0 1423.28,1118.0 1426.42,1118.0 1429.57,1118.0 1432.72,1118.0 1435.87,1118.0" fill="none" stroke="#009900" stroke-width="6.1" stroke-linecap="round" stroke-linejoin="round"/>
<rect x="682.29" y="637.66" width="31.46" height="483.14" rx="2.2" fill="#ff30ff"/>
<rect x="683.49" y="638.86" width="32.46" height="483.14" rx="1.6" fill="#8000df"/>
<g transform="translate(686.89,642.11)"><rect x="3.40" y="3.25" width="18.86" height="472.64" fill="url(#h4)"/></g>
<rect x="861.92" y="1045.10" width="31.46" height="75.70" rx="2.2" fill="#ff30ff"/>
<rect x="863.12" y="1046.30" width="32.46" height="75.70" rx="1.6" fill="#8000df"/>
<g transform="translate(866.52,1049.55)"><rect x="3.40" y="3.25" width="18.86" height="65.20" fill="url(#h4)"/></g>
<rect x="1041.54" y="1079.44" width="31.46" height="41.36" rx="2.2" fill="#ff30ff"/>
<rect x="1042.74" y="1080.64" width="32.46" height="41.36" rx="1.6" fill="#8000df"/>
<g transform="translate(1046.14,1083.89)"><rect x="3.40" y="3.25" width="18.86" height="30.86" fill="url(#h4)"/></g>
<rect x="1221.17" y="1099.08" width="31.46" height="21.72" rx="2.2" fill="#ff30ff"/>
<rect x="1222.37" y="1100.28" width="32.46" height="21.72" rx="1.6" fill="#8000df"/>
<g transform="translate(1225.77,1103.53)"><rect x="3.40" y="3.25" width="18.86" height="11.22" fill="url(#h4)"/></g>
<rect x="1400.79" y="1107.15" width="31.46" height="13.65" rx="2.2" fill="#ff30ff"/>
<rect x="1401.99" y="1108.35" width="32.46" height="13.65" rx="1.6" fill="#8000df"/>
<g transform="translate(1405.39,1111.60)"><rect x="3.40" y="3.25" width="18.86" height="3.15" fill="url(#h4)"/></g>
<rect x="1580.42" y="1107.84" width="31.46" height="12.96" rx="2.2" fill="#ff30ff"/>
<rect x="1581.62" y="1109.04" width="32.46" height="12.96" rx="1.6" fill="#8000df"/>
<g transform="translate(1585.02,1112.29)"><rect x="3.40" y="3.25" width="18.86" height="2.46" fill="url(#h4)"/></g>
<polyline transform="scale(1.17,1)" points="176.96,1104.3 180.10,1103.6 183.25,1102.9 186.40,1102.2 189.54,1101.4 192.69,1100.5 195.84,1099.7 198.99,1098.8 202.13,1097.9 205.28,1096.9 208.43,1095.9 211.58,1094.9 214.72,1093.8 217.87,1092.7 221.02,1091.5 224.16,1090.3 227.31,1089.0 230.46,1087.7 233.61,1086.4 236.75,1085.0 239.90,1083.5 243.05,1082.0 246.20,1080.5 249.34,1078.9 252.49,1077.2 255.64,1075.5 258.78,1073.8 261.93,1071.9 265.08,1070.0 268.23,1068.1 271.37,1066.1 274.52,1064.0 277.67,1061.9 280.82,1059.7 283.96,1057.4 287.11,1055.1 290.26,1052.7 293.40,1050.2 296.55,1047.7 299.70,1045.1 302.85,1042.4 305.99,1039.7 309.14,1036.9 312.29,1034.0 315.44,1031.0 318.58,1028.0 321.73,1024.9 324.88,1021.7 328.02,1018.5 331.17,1015.2 334.32,1011.8 337.47,1008.3 340.61,1004.7 343.76,1001.1 346.91,997.4 350.06,993.7 353.20,989.8 356.35,985.9 359.50,981.9 362.64,977.9 365.79,973.8 368.94,969.6 372.09,965.3 375.23,961.0 378.38,956.6 381.53,952.1 384.68,947.6 387.82,943.0 390.97,938.3 394.12,933.6 397.26,928.8 400.41,924.0 403.56,919.1 406.71,914.2 409.85,909.2 413.00,904.2 416.15,899.1 419.30,894.0 422.44,888.8 425.59,883.6 428.74,878.4 431.88,873.1 435.03,867.8 438.18,862.5 441.33,857.1 444.47,851.8 447.62,846.4 450.77,841.0 453.92,835.6 457.06,830.2 460.21,824.8 463.36,819.4 466.50,814.0 469.65,808.6 472.80,803.2 475.95,797.9 479.09,792.6 482.24,787.3 485.39,782.0 488.54,776.7 491.68,771.5 494.83,766.4 497.98,761.3 501.12,756.2 504.27,751.2 507.42,746.2 510.57,741.4 513.71,736.5 516.86,731.8 520.01,727.1 523.16,722.5 526.30,718.0 529.45,713.6 532.60,709.3 535.74,705.1 538.89,701.0 542.04,697.0 545.19,693.1 548.33,689.3 551.48,685.6 554.63,682.0 557.78,678.6 560.92,675.3 564.07,672.1 567.22,669.1 570.36,666.2 573.51,663.4 576.66,660.8 579.81,658.3 582.95,656.0 586.10,653.8 589.25,651.8 592.40,649.9 595.54,648.2 598.69,646.6 601.84,645.2 604.98,644.0 608.13,642.9 611.28,642.0 614.43,641.2 617.57,640.6 620.72,640.2 623.87,639.9 627.02,639.8 630.16,639.9 633.31,640.1 636.46,640.5 639.60,641.1 642.75,641.8 645.90,642.7 649.05,643.8 652.19,645.0 655.34,646.4 658.49,647.9 661.64,649.6 664.78,651.5 667.93,653.5 671.08,655.7 674.22,658.0 677.37,660.4 680.52,663.0 683.67,665.8 686.81,668.7 689.96,671.7 693.11,674.8 696.26,678.1 699.40,681.5 702.55,685.1 705.70,688.7 708.84,692.5 711.99,696.4 715.14,700.4 718.29,704.5 721.43,708.7 724.58,713.0 727.73,717.4 730.88,721.9 734.02,726.5 737.17,731.1 740.32,735.8 743.46,740.6 746.61,745.5 749.76,750.5 752.91,755.5 756.05,760.5 759.20,765.6 762.35,770.8 765.50,776.0 768.64,781.2 771.79,786.5 774.94,791.8 778.08,797.1 781.23,802.5 784.38,807.8 787.53,813.2 790.67,818.6 793.82,824.0 796.97,829.4 800.12,834.8 803.26,840.2 806.41,845.6 809.56,851.0 812.70,856.4 815.85,861.7 819.00,867.0 822.15,872.3 825.29,877.6 828.44,882.8 831.59,888.0 834.74,893.2 837.88,898.3 841.03,903.4 844.18,908.5 847.32,913.4 850.47,918.4 853.62,923.3 856.77,928.1 859.91,932.9 863.06,937.6 866.21,942.3 869.36,946.9 872.50,951.4 875.65,955.9 878.80,960.3 881.94,964.7 885.09,968.9 888.24,973.1 891.39,977.3 894.53,981.3 897.68,985.3 900.83,989.3 903.98,993.1 907.12,996.9 910.27,1000.6 913.42,1004.2 916.56,1007.8 919.71,1011.3 922.86,1014.7 926.01,1018.0 929.15,1021.3 932.30,1024.4 935.45,1027.6 938.60,1030.6 941.74,1033.6 944.89,1036.5 948.04,1039.3 951.18,1042.0 954.33,1044.7 957.48,1047.3 960.63,1049.9 963.77,1052.3 966.92,1054.7 970.07,1057.1 973.22,1059.4 976.36,1061.6 979.51,1063.7 982.66,1065.8 985.80,1067.8 988.95,1069.8 992.10,1071.7 995.25,1073.5 998.39,1075.3 1001.54,1077.0 1004.69,1078.7 1007.84,1080.3 1010.98,1081.8 1014.13,1083.3 1017.28,1084.8 1020.43,1086.2 1023.57,1087.5 1026.72,1088.9 1029.87,1090.1 1033.01,1091.3 1036.16,1092.5 1039.31,1093.6 1042.46,1094.7 1045.60,1095.8 1048.75,1096.8 1051.90,1097.7 1055.05,1098.7 1058.19,1099.6 1061.34,1100.4 1064.49,1101.3 1067.63,1102.0 1070.78,1102.8 1073.93,1103.5 1077.08,1104.2 1080.22,1104.9 1083.37,1105.5 1086.52,1106.2 1089.67,1106.7 1092.81,1107.3 1095.96,1107.8 1099.11,1108.4 1102.25,1108.8 1105.40,1109.3 1108.55,1109.8 1111.70,1110.2 1114.84,1110.6 1117.99,1111.0 1121.14,1111.4 1124.29,1111.7 1127.43,1112.0 1130.58,1112.4 1133.73,1112.7 1136.87,1113.0 1140.02,1113.2 1143.17,1113.5 1146.32,1113.8 1149.46,1114.0 1152.61,1114.2 1155.76,1114.4 1158.91,1114.6 1162.05,1114.8 1165.20,1115.0 1168.35,1115.2 1171.49,1115.3 1174.64,1115.5 1177.79,1115.6 1180.94,1115.8 1184.08,1115.9 1187.23,1116.0 1190.38,1116.2 1193.53,1116.3 1196.67,1116.4 1199.82,1116.5 1202.97,1116.6 1206.11,1116.7 1209.26,1116.7 1212.41,1116.8 1215.56,1116.9 1218.70,1117.0 1221.85,1117.0 1225.00,1117.1 1228.15,1117.1 1231.29,1117.2 1234.44,1117.3 1237.59,1117.3 1240.73,1117.3 1243.88,1117.4 1247.03,1117.4 1250.18,1117.5 1253.32,1117.5 1256.47,1117.5 1259.62,1117.6 1262.77,1117.6 1265.91,1117.6 1269.06,1117.7 1272.21,1117.7 1275.35,1117.7 1278.50,1117.7 1281.65,1117.7 1284.80,1117.8 1287.94,1117.8 1291.09,1117.8 1294.24,1117.8 1297.39,1117.8 1300.53,1117.8 1303.68,1117.8 1306.83,1117.9 1309.97,1117.9 1313.12,1117.9 1316.27,1117.9 1319.42,1117.9 1322.56,1117.9 1325.71,1117.9 1328.86,1117.9 1332.01,1117.9 1335.15,1117.9 1338.30,1117.9 1341.45,1117.9 1344.59,1117.9 1347.74,1117.9 1350.89,1118.0 1354.04,1118.0 1357.18,1118.0 1360.33,1118.0 1363.48,1118.0 1366.63,1118.0 1369.77,1118.0 1372.92,1118.0 1376.07,1118.0 1379.21,1118.0 1382.36,1118.0 1385.51,1118.0 1388.66,1118.0 1391.80,1118.0 1394.95,1118.0 1398.10,1118.0 1401.25,1118.0 1404.39,1118.0 1407.54,1118.0 1410.69,1118.0 1413.83,1118.0 1416.98,1118.0 1420.13,1118.0 1423.28,1118.0 1426.42,1118.0 1429.57,1118.0 1432.72,1118.0 1435.87,1118.0" fill="none" stroke="#8000df" stroke-width="6.1" stroke-linecap="round" stroke-linejoin="round"/>
<rect x="707.95" y="741.21" width="31.46" height="379.59" rx="2.2" fill="#ffb8ff"/>
<rect x="709.15" y="742.41" width="32.46" height="379.59" rx="1.6" fill="#ff00ff"/>
<g transform="translate(712.55,745.66)"><rect x="3.40" y="3.25" width="18.86" height="369.09" fill="url(#h5)"/></g>
<rect x="887.58" y="1075.55" width="31.46" height="45.25" rx="2.2" fill="#ffb8ff"/>
<rect x="888.78" y="1076.75" width="32.46" height="45.25" rx="1.6" fill="#ff00ff"/>
<g transform="translate(892.18,1080.00)"><rect x="3.40" y="3.25" width="18.86" height="34.75" fill="url(#h5)"/></g>
<rect x="1067.20" y="1081.57" width="31.46" height="39.23" rx="2.2" fill="#ffb8ff"/>
<rect x="1068.40" y="1082.77" width="32.46" height="39.23" rx="1.6" fill="#ff00ff"/>
<g transform="translate(1071.80,1086.02)"><rect x="3.40" y="3.25" width="18.86" height="28.73" fill="url(#h5)"/></g>
<rect x="1246.83" y="1090.78" width="31.46" height="30.02" rx="2.2" fill="#ffb8ff"/>
<rect x="1248.03" y="1091.98" width="32.46" height="30.02" rx="1.6" fill="#ff00ff"/>
<g transform="translate(1251.43,1095.23)"><rect x="3.40" y="3.25" width="18.86" height="19.52" fill="url(#h5)"/></g>
<rect x="1426.45" y="1104.34" width="31.46" height="16.46" rx="2.2" fill="#ffb8ff"/>
<rect x="1427.65" y="1105.54" width="32.46" height="16.46" rx="1.6" fill="#ff00ff"/>
<g transform="translate(1431.05,1108.79)"><rect x="3.40" y="3.25" width="18.86" height="5.96" fill="url(#h5)"/></g>
<rect x="1606.08" y="1108.45" width="31.46" height="12.35" rx="2.2" fill="#ffb8ff"/>
<rect x="1607.28" y="1109.65" width="32.46" height="12.35" rx="1.6" fill="#ff00ff"/>
<g transform="translate(1610.68,1112.90)"><rect x="3.40" y="3.25" width="18.86" height="1.85" fill="url(#h5)"/></g>
<polyline transform="scale(1.17,1)" points="176.96,1105.6 180.10,1105.1 183.25,1104.4 186.40,1103.8 189.54,1103.2 192.69,1102.5 195.84,1101.8 198.99,1101.0 202.13,1100.3 205.28,1099.5 208.43,1098.7 211.58,1097.8 214.72,1096.9 217.87,1096.0 221.02,1095.1 224.16,1094.1 227.31,1093.1 230.46,1092.0 233.61,1090.9 236.75,1089.8 239.90,1088.7 243.05,1087.5 246.20,1086.3 249.34,1085.0 252.49,1083.7 255.64,1082.3 258.78,1080.9 261.93,1079.5 265.08,1078.0 268.23,1076.5 271.37,1074.9 274.52,1073.3 277.67,1071.7 280.82,1070.0 283.96,1068.2 287.11,1066.4 290.26,1064.6 293.40,1062.7 296.55,1060.7 299.70,1058.7 302.85,1056.7 305.99,1054.6 309.14,1052.4 312.29,1050.3 315.44,1048.0 318.58,1045.7 321.73,1043.4 324.88,1041.0 328.02,1038.5 331.17,1036.0 334.32,1033.4 337.47,1030.8 340.61,1028.2 343.76,1025.4 346.91,1022.7 350.06,1019.8 353.20,1017.0 356.35,1014.0 359.50,1011.1 362.64,1008.0 365.79,1005.0 368.94,1001.8 372.09,998.7 375.23,995.5 378.38,992.2 381.53,988.9 384.68,985.5 387.82,982.1 390.97,978.6 394.12,975.2 397.26,971.6 400.41,968.0 403.56,964.4 406.71,960.8 409.85,957.1 413.00,953.4 416.15,949.6 419.30,945.8 422.44,942.0 425.59,938.2 428.74,934.3 431.88,930.4 435.03,926.5 438.18,922.6 441.33,918.6 444.47,914.6 447.62,910.7 450.77,906.7 453.92,902.7 457.06,898.7 460.21,894.6 463.36,890.6 466.50,886.6 469.65,882.6 472.80,878.6 475.95,874.6 479.09,870.6 482.24,866.6 485.39,862.7 488.54,858.7 491.68,854.8 494.83,850.9 497.98,847.1 501.12,843.2 504.27,839.4 507.42,835.7 510.57,832.0 513.71,828.3 516.86,824.6 520.01,821.1 523.16,817.5 526.30,814.0 529.45,810.6 532.60,807.3 535.74,803.9 538.89,800.7 542.04,797.5 545.19,794.4 548.33,791.4 551.48,788.5 554.63,785.6 557.78,782.8 560.92,780.1 564.07,777.4 567.22,774.9 570.36,772.5 573.51,770.1 576.66,767.8 579.81,765.7 582.95,763.6 586.10,761.6 589.25,759.8 592.40,758.0 595.54,756.4 598.69,754.8 601.84,753.4 604.98,752.0 608.13,750.8 611.28,749.7 614.43,748.7 617.57,747.8 620.72,747.1 623.87,746.4 627.02,745.9 630.16,745.5 633.31,745.2 636.46,745.0 639.60,744.9 642.75,745.0 645.90,745.1 649.05,745.4 652.19,745.8 655.34,746.3 658.49,747.0 661.64,747.7 664.78,748.6 667.93,749.6 671.08,750.6 674.22,751.9 677.37,753.2 680.52,754.6 683.67,756.1 686.81,757.8 689.96,759.5 693.11,761.4 696.26,763.3 699.40,765.4 702.55,767.5 705.70,769.8 708.84,772.1 711.99,774.5 715.14,777.1 718.29,779.7 721.43,782.4 724.58,785.2 727.73,788.0 730.88,791.0 734.02,794.0 737.17,797.1 740.32,800.2 743.46,803.5 746.61,806.8 749.76,810.1 752.91,813.5 756.05,817.0 759.20,820.5 762.35,824.1 765.50,827.7 768.64,831.4 771.79,835.1 774.94,838.9 778.08,842.7 781.23,846.5 784.38,850.4 787.53,854.3 790.67,858.2 793.82,862.1 796.97,866.1 800.12,870.0 803.26,874.0 806.41,878.0 809.56,882.0 812.70,886.0 815.85,890.0 819.00,894.1 822.15,898.1 825.29,902.1 828.44,906.1 831.59,910.1 834.74,914.1 837.88,918.0 841.03,922.0 844.18,925.9 847.32,929.8 850.47,933.7 853.62,937.6 856.77,941.5 859.91,945.3 863.06,949.1 866.21,952.8 869.36,956.6 872.50,960.2 875.65,963.9 878.80,967.5 881.94,971.1 885.09,974.6 888.24,978.1 891.39,981.6 894.53,985.0 897.68,988.4 900.83,991.7 903.98,995.0 907.12,998.2 910.27,1001.4 913.42,1004.5 916.56,1007.6 919.71,1010.6 922.86,1013.6 926.01,1016.5 929.15,1019.4 932.30,1022.3 935.45,1025.0 938.60,1027.8 941.74,1030.4 944.89,1033.1 948.04,1035.6 951.18,1038.1 954.33,1040.6 957.48,1043.0 960.63,1045.4 963.77,1047.7 966.92,1049.9 970.07,1052.1 973.22,1054.3 976.36,1056.4 979.51,1058.4 982.66,1060.4 985.80,1062.4 988.95,1064.3 992.10,1066.1 995.25,1067.9 998.39,1069.7 1001.54,1071.4 1004.69,1073.1 1007.84,1074.7 1010.98,1076.3 1014.13,1077.8 1017.28,1079.3 1020.43,1080.7 1023.57,1082.1 1026.72,1083.5 1029.87,1084.8 1033.01,1086.1 1036.16,1087.3 1039.31,1088.5 1042.46,1089.7 1045.60,1090.8 1048.75,1091.9 1051.90,1092.9 1055.05,1093.9 1058.19,1094.9 1061.34,1095.9 1064.49,1096.8 1067.63,1097.7 1070.78,1098.5 1073.93,1099.4 1077.08,1100.2 1080.22,1100.9 1083.37,1101.7 1086.52,1102.4 1089.67,1103.1 1092.81,1103.7 1095.96,1104.4 1099.11,1105.0 1102.25,1105.6 1105.40,1106.1 1108.55,1106.7 1111.70,1107.2 1114.84,1107.7 1117.99,1108.2 1121.14,1108.6 1124.29,1109.1 1127.43,1109.5 1130.58,1109.9 1133.73,1110.3 1136.87,1110.7 1140.02,1111.0 1143.17,1111.4 1146.32,1111.7 1149.46,1112.0 1152.61,1112.3 1155.76,1112.6 1158.91,1112.9 1162.05,1113.1 1165.20,1113.4 1168.35,1113.6 1171.49,1113.8 1174.64,1114.1 1177.79,1114.3 1180.94,1114.5 1184.08,1114.6 1187.23,1114.8 1190.38,1115.0 1193.53,1115.2 1196.67,1115.3 1199.82,1115.5 1202.97,1115.6 1206.11,1115.7 1209.26,1115.8 1212.41,1116.0 1215.56,1116.1 1218.70,1116.2 1221.85,1116.3 1225.00,1116.4 1228.15,1116.5 1231.29,1116.6 1234.44,1116.7 1237.59,1116.7 1240.73,1116.8 1243.88,1116.9 1247.03,1116.9 1250.18,1117.0 1253.32,1117.1 1256.47,1117.1 1259.62,1117.2 1262.77,1117.2 1265.91,1117.3 1269.06,1117.3 1272.21,1117.4 1275.35,1117.4 1278.50,1117.4 1281.65,1117.5 1284.80,1117.5 1287.94,1117.5 1291.09,1117.6 1294.24,1117.6 1297.39,1117.6 1300.53,1117.6 1303.68,1117.7 1306.83,1117.7 1309.97,1117.7 1313.12,1117.7 1316.27,1117.7 1319.42,1117.8 1322.56,1117.8 1325.71,1117.8 1328.86,1117.8 1332.01,1117.8 1335.15,1117.8 1338.30,1117.8 1341.45,1117.9 1344.59,1117.9 1347.74,1117.9 1350.89,1117.9 1354.04,1117.9 1357.18,1117.9 1360.33,1117.9 1363.48,1117.9 1366.63,1117.9 1369.77,1117.9 1372.92,1117.9 1376.07,1117.9 1379.21,1117.9 1382.36,1117.9 1385.51,1117.9 1388.66,1117.9 1391.80,1118.0 1394.95,1118.0 1398.10,1118.0 1401.25,1118.0 1404.39,1118.0 1407.54,1118.0 1410.69,1118.0 1413.83,1118.0 1416.98,1118.0 1420.13,1118.0 1423.28,1118.0 1426.42,1118.0 1429.57,1118.0 1432.72,1118.0 1435.87,1118.0" fill="none" stroke="#ff00ff" stroke-width="6.1" stroke-linecap="round" stroke-linejoin="round"/>
<rect x="733.61" y="781.19" width="31.46" height="339.61" rx="2.2" fill="#b87e00"/>
<rect x="734.81" y="782.39" width="32.46" height="339.61" rx="1.6" fill="#a84800"/>
<g transform="translate(738.21,785.64)"><rect x="3.40" y="3.25" width="18.86" height="329.11" fill="url(#h6)"/></g>
<rect x="913.24" y="1077.53" width="31.46" height="43.27" rx="2.2" fill="#b87e00"/>
<rect x="914.44" y="1078.73" width="32.46" height="43.27" rx="1.6" fill="#a84800"/>
<g transform="translate(917.84,1081.98)"><rect x="3.40" y="3.25" width="18.86" height="32.77" fill="url(#h6)"/></g>
<rect x="1092.86" y="1094.51" width="31.46" height="26.29" rx="2.2" fill="#b87e00"/>
<rect x="1094.06" y="1095.71" width="32.46" height="26.29" rx="1.6" fill="#a84800"/>
<g transform="translate(1097.46,1098.96)"><rect x="3.40" y="3.25" width="18.86" height="15.79" fill="url(#h6)"/></g>
<rect x="1272.49" y="1102.89" width="31.46" height="17.91" rx="2.2" fill="#b87e00"/>
<rect x="1273.69" y="1104.09" width="32.46" height="17.91" rx="1.6" fill="#a84800"/>
<g transform="translate(1277.09,1107.34)"><rect x="3.40" y="3.25" width="18.86" height="7.41" fill="url(#h6)"/></g>
<rect x="1452.11" y="1107.15" width="31.46" height="13.65" rx="2.2" fill="#b87e00"/>
<rect x="1453.31" y="1108.35" width="32.46" height="13.65" rx="1.6" fill="#a84800"/>
<g transform="translate(1456.71,1111.60)"><rect x="3.40" y="3.25" width="18.86" height="3.15" fill="url(#h6)"/></g>
<rect x="1631.74" y="1107.53" width="31.46" height="13.27" rx="2.2" fill="#b87e00"/>
<rect x="1632.94" y="1108.73" width="32.46" height="13.27" rx="1.6" fill="#a84800"/>
<g transform="translate(1636.34,1111.98)"><rect x="3.40" y="3.25" width="18.86" height="2.77" fill="url(#h6)"/></g>
<polyline transform="scale(1.17,1)" points="176.96,1104.9 180.10,1104.3 183.25,1103.7 186.40,1103.0 189.54,1102.4 192.69,1101.6 195.84,1100.9 198.99,1100.1 202.13,1099.3 205.28,1098.5 208.43,1097.7 211.58,1096.8 214.72,1095.9 217.87,1094.9 221.02,1094.0 224.16,1093.0 227.31,1091.9 230.46,1090.8 233.61,1089.7 236.75,1088.6 239.90,1087.4 243.05,1086.2 246.20,1084.9 249.34,1083.6 252.49,1082.3 255.64,1080.9 258.78,1079.4 261.93,1078.0 265.08,1076.5 268.23,1074.9 271.37,1073.3 274.52,1071.7 277.67,1070.0 280.82,1068.3 283.96,1066.5 287.11,1064.7 290.26,1062.9 293.40,1060.9 296.55,1059.0 299.70,1057.0 302.85,1054.9 305.99,1052.8 309.14,1050.7 312.29,1048.5 315.44,1046.3 318.58,1044.0 321.73,1041.6 324.88,1039.2 328.02,1036.8 331.17,1034.3 334.32,1031.8 337.47,1029.2 340.61,1026.6 343.76,1023.9 346.91,1021.2 350.06,1018.4 353.20,1015.6 356.35,1012.8 359.50,1009.9 362.64,1006.9 365.79,1003.9 368.94,1000.9 372.09,997.8 375.23,994.7 378.38,991.6 381.53,988.4 384.68,985.1 387.82,981.9 390.97,978.6 394.12,975.2 397.26,971.9 400.41,968.5 403.56,965.1 406.71,961.6 409.85,958.1 413.00,954.6 416.15,951.1 419.30,947.5 422.44,944.0 425.59,940.4 428.74,936.8 431.88,933.2 435.03,929.6 438.18,925.9 441.33,922.3 444.47,918.7 447.62,915.0 450.77,911.4 453.92,907.7 457.06,904.1 460.21,900.5 463.36,896.8 466.50,893.2 469.65,889.7 472.80,886.1 475.95,882.5 479.09,879.0 482.24,875.5 485.39,872.0 488.54,868.6 491.68,865.2 494.83,861.8 497.98,858.5 501.12,855.2 504.27,851.9 507.42,848.7 510.57,845.6 513.71,842.5 516.86,839.5 520.01,836.5 523.16,833.6 526.30,830.7 529.45,827.9 532.60,825.2 535.74,822.5 538.89,819.9 542.04,817.4 545.19,815.0 548.33,812.7 551.48,810.4 554.63,808.2 557.78,806.1 560.92,804.1 564.07,802.2 567.22,800.3 570.36,798.6 573.51,797.0 576.66,795.4 579.81,794.0 582.95,792.6 586.10,791.4 589.25,790.2 592.40,789.2 595.54,788.2 598.69,787.4 601.84,786.6 604.98,786.0 608.13,785.5 611.28,785.1 614.43,784.8 617.57,784.6 620.72,784.5 623.87,784.5 627.02,784.6 630.16,784.9 633.31,785.2 636.46,785.7 639.60,786.2 642.75,786.9 645.90,787.7 649.05,788.5 652.19,789.5 655.34,790.6 658.49,791.8 661.64,793.1 664.78,794.5 667.93,796.0 671.08,797.5 674.22,799.2 677.37,801.0 680.52,802.9 683.67,804.8 686.81,806.9 689.96,809.0 693.11,811.2 696.26,813.5 699.40,815.9 702.55,818.3 705.70,820.9 708.84,823.5 711.99,826.2 715.14,828.9 718.29,831.7 721.43,834.6 724.58,837.6 727.73,840.6 730.88,843.6 734.02,846.7 737.17,849.9 740.32,853.1 743.46,856.4 746.61,859.7 749.76,863.0 752.91,866.4 756.05,869.8 759.20,873.3 762.35,876.8 765.50,880.3 768.64,883.8 771.79,887.4 774.94,891.0 778.08,894.6 781.23,898.2 784.38,901.8 787.53,905.4 790.67,909.1 793.82,912.7 796.97,916.3 800.12,920.0 803.26,923.6 806.41,927.3 809.56,930.9 812.70,934.5 815.85,938.1 819.00,941.7 822.15,945.3 825.29,948.8 828.44,952.4 831.59,955.9 834.74,959.4 837.88,962.9 841.03,966.3 844.18,969.7 847.32,973.1 850.47,976.5 853.62,979.8 856.77,983.1 859.91,986.3 863.06,989.5 866.21,992.7 869.36,995.9 872.50,999.0 875.65,1002.0 878.80,1005.0 881.94,1008.0 885.09,1010.9 888.24,1013.8 891.39,1016.7 894.53,1019.5 897.68,1022.2 900.83,1024.9 903.98,1027.6 907.12,1030.2 910.27,1032.7 913.42,1035.2 916.56,1037.7 919.71,1040.1 922.86,1042.5 926.01,1044.8 929.15,1047.1 932.30,1049.3 935.45,1051.5 938.60,1053.6 941.74,1055.7 944.89,1057.7 948.04,1059.7 951.18,1061.6 954.33,1063.5 957.48,1065.4 960.63,1067.2 963.77,1068.9 966.92,1070.6 970.07,1072.3 973.22,1073.9 976.36,1075.5 979.51,1077.0 982.66,1078.5 985.80,1080.0 988.95,1081.4 992.10,1082.7 995.25,1084.1 998.39,1085.4 1001.54,1086.6 1004.69,1087.8 1007.84,1089.0 1010.98,1090.1 1014.13,1091.2 1017.28,1092.3 1020.43,1093.3 1023.57,1094.3 1026.72,1095.3 1029.87,1096.2 1033.01,1097.1 1036.16,1098.0 1039.31,1098.8 1042.46,1099.6 1045.60,1100.4 1048.75,1101.2 1051.90,1101.9 1055.05,1102.6 1058.19,1103.3 1061.34,1103.9 1064.49,1104.6 1067.63,1105.2 1070.78,1105.7 1073.93,1106.3 1077.08,1106.8 1080.22,1107.3 1083.37,1107.8 1086.52,1108.3 1089.67,1108.8 1092.81,1109.2 1095.96,1109.6 1099.11,1110.0 1102.25,1110.4 1105.40,1110.8 1108.55,1111.1 1111.70,1111.5 1114.84,1111.8 1117.99,1112.1 1121.14,1112.4 1124.29,1112.7 1127.43,1112.9 1130.58,1113.2 1133.73,1113.4 1136.87,1113.7 1140.02,1113.9 1143.17,1114.1 1146.32,1114.3 1149.46,1114.5 1152.61,1114.7 1155.76,1114.9 1158.91,1115.0 1162.05,1115.2 1165.20,1115.4 1168.35,1115.5 1171.49,1115.6 1174.64,1115.8 1177.79,1115.9 1180.94,1116.0 1184.08,1116.1 1187.23,1116.2 1190.38,1116.3 1193.53,1116.4 1196.67,1116.5 1199.82,1116.6 1202.97,1116.7 1206.11,1116.8 1209.26,1116.8 1212.41,1116.9 1215.56,1117.0 1218.70,1117.0 1221.85,1117.1 1225.00,1117.1 1228.15,1117.2 1231.29,1117.2 1234.44,1117.3 1237.59,1117.3 1240.73,1117.4 1243.88,1117.4 1247.03,1117.4 1250.18,1117.5 1253.32,1117.5 1256.47,1117.5 1259.62,1117.6 1262.77,1117.6 1265.91,1117.6 1269.06,1117.7 1272.21,1117.7 1275.35,1117.7 1278.50,1117.7 1281.65,1117.7 1284.80,1117.8 1287.94,1117.8 1291.09,1117.8 1294.24,1117.8 1297.39,1117.8 1300.53,1117.8 1303.68,1117.8 1306.83,1117.8 1309.97,1117.9 1313.12,1117.9 1316.27,1117.9 1319.42,1117.9 1322.56,1117.9 1325.71,1117.9 1328.86,1117.9 1332.01,1117.9 1335.15,1117.9 1338.30,1117.9 1341.45,1117.9 1344.59,1117.9 1347.74,1117.9 1350.89,1117.9 1354.04,1117.9 1357.18,1118.0 1360.33,1118.0 1363.48,1118.0 1366.63,1118.0 1369.77,1118.0 1372.92,1118.0 1376.07,1118.0 1379.21,1118.0 1382.36,1118.0 1385.51,1118.0 1388.66,1118.0 1391.80,1118.0 1394.95,1118.0 1398.10,1118.0 1401.25,1118.0 1404.39,1118.0 1407.54,1118.0 1410.69,1118.0 1413.83,1118.0 1416.98,1118.0 1420.13,1118.0 1423.28,1118.0 1426.42,1118.0 1429.57,1118.0 1432.72,1118.0 1435.87,1118.0" fill="none" stroke="#a84800" stroke-width="6.1" stroke-linecap="round" stroke-linejoin="round"/>
</g>
<g stroke="#000" stroke-width="4" fill="none" stroke-linecap="butt">
<path d="M225.0,50.0 V1133.0"/>
<path d="M209.0,1118.0 H1664.0"/>
<path d="M216.0,1041.86 H225.0"/>
<path d="M209.0,965.71 H225.0"/>
<path d="M216.0,889.57 H225.0"/>
<path d="M209.0,813.43 H225.0"/>
<path d="M216.0,737.29 H225.0"/>
<path d="M209.0,661.14 H225.0"/>
<path d="M216.0,585.00 H225.0"/>
<path d="M209.0,508.86 H225.0"/>
<path d="M216.0,432.71 H225.0"/>
<path d="M209.0,356.57 H225.0"/>
<path d="M216.0,280.43 H225.0"/>
<path d="M209.0,204.29 H225.0"/>
<path d="M216.0,128.14 H225.0"/>
<path d="M209.0,52.00 H225.0"/>
<path d="M314.81,1118.0 V1126.0"/>
<path d="M404.62,1118.0 V1133.0"/>
<path d="M494.44,1118.0 V1126.0"/>
<path d="M584.25,1118.0 V1133.0"/>
<path d="M674.06,1118.0 V1126.0"/>
<path d="M763.88,1118.0 V1133.0"/>
<path d="M853.69,1118.0 V1126.0"/>
<path d="M943.50,1118.0 V1133.0"/>
<path d="M1033.31,1118.0 V1126.0"/>
<path d="M1123.12,1118.0 V1133.0"/>
<path d="M1212.94,1118.0 V1126.0"/>
<path d="M1302.75,1118.0 V1133.0"/>
<path d="M1392.56,1118.0 V1126.0"/>
<path d="M1482.38,1118.0 V1133.0"/>
<path d="M1572.19,1118.0 V1126.0"/>
<path d="M1662.00,1118.0 V1133.0"/>
</g>
<text transform="translate(199,1131.8) scale(1,1.035)" font-size="61" text-anchor="end">0</text>
<text transform="translate(199,979.5) scale(1,1.035)" font-size="61" text-anchor="end">200</text>
<text transform="translate(199,827.2) scale(1,1.035)" font-size="61" text-anchor="end">400</text>
<text transform="translate(199,674.9) scale(1,1.035)" font-size="61" text-anchor="end">600</text>
<text transform="translate(199,522.7) scale(1,1.035)" font-size="61" text-anchor="end">800</text>
<text transform="translate(199,370.4) scale(1,1.035)" font-size="61" text-anchor="end">1000</text>
<text transform="translate(199,218.1) scale(1,1.035)" font-size="61" text-anchor="end">1200</text>
<text transform="translate(199,65.8) scale(1,1.035)" font-size="61" text-anchor="end">1400</text>
<text transform="translate(0,1186.5) scale(1,1.035)" font-size="61"><tspan x="164.4" y="2" textLength="40.1" lengthAdjust="spacingAndGlyphs">−</tspan><tspan x="265.7" y="0" text-anchor="end">20</tspan></text>
<text transform="translate(0,1186.5) scale(1,1.035)" font-size="61"><tspan x="344.4" y="2" textLength="40.1" lengthAdjust="spacingAndGlyphs">−</tspan><tspan x="445.4" y="0" text-anchor="end">10</tspan></text>
<text transform="translate(584.2,1186.5) scale(1,1.035)" font-size="61" text-anchor="middle">0</text>
<text transform="translate(763.9,1186.5) scale(1,1.035)" font-size="61" text-anchor="middle">10</text>
<text transform="translate(943.5,1186.5) scale(1,1.035)" font-size="61" text-anchor="middle">20</text>
<text transform="translate(1123.1,1186.5) scale(1,1.035)" font-size="61" text-anchor="middle">30</text>
<text transform="translate(1302.8,1186.5) scale(1,1.035)" font-size="61" text-anchor="middle">40</text>
<text transform="translate(1482.4,1186.5) scale(1,1.035)" font-size="61" text-anchor="middle">50</text>
<text transform="translate(1662.0,1186.5) scale(1,1.035)" font-size="61" text-anchor="middle">60</text>
<text transform="translate(943.5,1264) scale(1.103,1)" font-size="59" text-anchor="middle">Diameter (μm)</text>
<text transform="translate(54.8,584) rotate(-90) scale(1.141,1.085)" font-size="59" text-anchor="middle">Count</text>
<g transform="translate(1195,87.0)">
<rect x="0" y="0" width="165" height="84.6" rx="2" fill="#000000"/>
<g transform="translate(7.8,6)"><rect x="0" y="0" width="149.4" height="72.5" fill="url(#g0)"/></g>
<text transform="translate(176.5,65.4) scale(1.075,1)" font-size="61" text-anchor="start">6h</text>
</g>
<g transform="translate(1195,174.4)">
<rect x="0" y="0" width="165" height="84.6" rx="2" fill="#ff0000"/>
<g transform="translate(7.8,6)"><rect x="0" y="0" width="149.4" height="72.5" fill="url(#g1)"/></g>
<text transform="translate(176.5,65.4) scale(1.065,1)" font-size="61" text-anchor="start">12h</text>
</g>
<g transform="translate(1195,261.9)">
<rect x="0" y="0" width="165" height="84.6" rx="2" fill="#0000ff"/>
<g transform="translate(7.8,6)"><rect x="0" y="0" width="149.4" height="72.5" fill="url(#g2)"/></g>
<text transform="translate(176.5,65.4) scale(1.065,1)" font-size="61" text-anchor="start">24h</text>
</g>
<g transform="translate(1195,349.4)">
<rect x="0" y="0" width="165" height="84.6" rx="2" fill="#009900"/>
<g transform="translate(7.8,6)"><rect x="0" y="0" width="149.4" height="72.5" fill="url(#g3)"/></g>
<text transform="translate(176.5,65.4) scale(1.065,1)" font-size="61" text-anchor="start">48h</text>
</g>
<g transform="translate(1195,436.8)">
<rect x="0" y="0" width="165" height="84.6" rx="2" fill="#8000df"/>
<g transform="translate(7.8,6)"><rect x="0" y="0" width="149.4" height="72.5" fill="url(#g4)"/></g>
<text transform="translate(176.5,65.4) scale(1.065,1)" font-size="61" text-anchor="start">72h</text>
</g>
<g transform="translate(1195,524.2)">
<rect x="0" y="0" width="165" height="84.6" rx="2" fill="#ff00ff"/>
<g transform="translate(7.8,6)"><rect x="0" y="0" width="149.4" height="72.5" fill="url(#g5)"/></g>
<text transform="translate(176.5,65.4) scale(1.035,1)" font-size="61" text-anchor="start">120h</text>
</g>
<g transform="translate(1195,611.7)">
<rect x="0" y="0" width="165" height="84.6" rx="2" fill="#a84800"/>
<g transform="translate(7.8,6)"><rect x="0" y="0" width="149.4" height="72.5" fill="url(#g6)"/></g>
<text transform="translate(176.5,65.4) scale(1.035,1)" font-size="61" text-anchor="start">168h</text>
</g>
</svg></body></html>
